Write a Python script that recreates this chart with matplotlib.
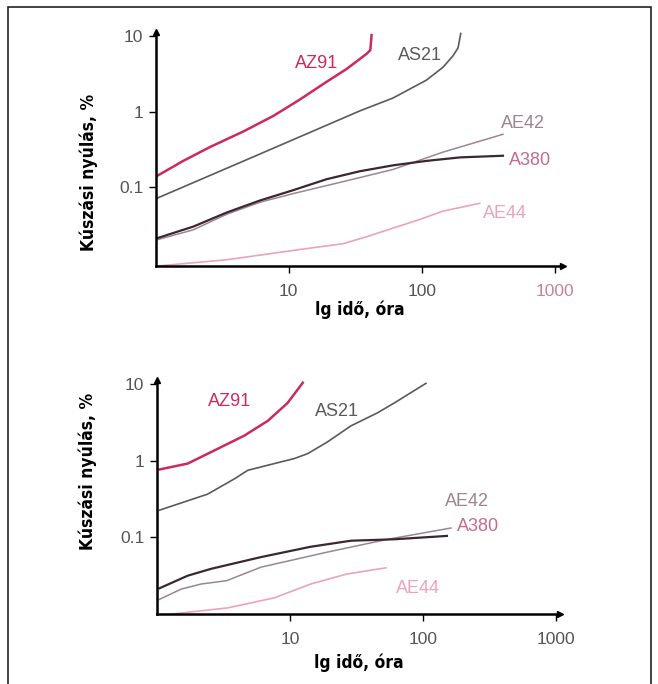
import matplotlib.pyplot as plt

# felső diagram (top panel)
t_az91 = [1.02, 1.61, 2.56, 4.55, 7.64, 12.1, 19.2, 27.2, 38.4, 41.0, 41.9]
e_az91 = [0.14, 0.222, 0.339, 0.544, 0.873, 1.44, 2.47, 3.66, 5.8, 6.5, 10.3]
t_as21 = [1.02, 6.07, 34.2, 60.7, 108, 144, 171, 187, 196]
e_as21 = [0.071, 0.274, 1.02, 1.51, 2.6, 3.85, 5.43, 6.95, 10.8]
t_ae42 = [1.02, 1.92, 3.41, 6.07, 10.8, 25.6, 60.7, 144, 407]
e_ae42 = [0.02, 0.0272, 0.0436, 0.063, 0.082, 0.118, 0.171, 0.29, 0.50]
t_a380 = [1.02, 1.92, 3.41, 6.07, 10.8, 19.2, 34.2, 60.7, 108, 193, 407]
e_a380 = [0.021, 0.030, 0.046, 0.0664, 0.091, 0.127, 0.162, 0.194, 0.222, 0.247, 0.26]
t_ae44 = [1.02, 3.41, 10.8, 25.6, 38.4, 60.7, 96.5, 144, 272]
e_ae44 = [0.009, 0.0109, 0.0145, 0.0178, 0.022, 0.0286, 0.0373, 0.048, 0.061]

# alsó diagram (bottom panel)
b_t_az91 = [1.05, 1.71, 2.56, 4.54, 6.81, 9.6, 12.5]
b_e_az91 = [0.77, 0.92, 1.30, 2.13, 3.32, 5.7, 10.5]
b_t_as21 = [1.05, 2.41, 3.83, 4.82, 6.81, 10.8, 13.6, 19.0, 28.7, 45.6, 60.7, 105]
b_e_as21 = [0.226, 0.366, 0.58, 0.75, 0.874, 1.07, 1.24, 1.75, 2.86, 4.25, 5.7, 10.3]
b_t_a380 = [1.05, 1.71, 2.56, 6.07, 14.3, 28.7, 60.7, 151]
b_e_a380 = [0.0215, 0.0314, 0.0386, 0.055, 0.075, 0.09, 0.094, 0.104]
b_t_ae42 = [1.05, 1.52, 2.15, 3.35, 6.07, 19.2, 54.3, 162]
b_e_ae42 = [0.0154, 0.0209, 0.0244, 0.027, 0.0406, 0.064, 0.094, 0.132]
b_t_ae44 = [1.05, 3.41, 7.64, 14.3, 26.7, 52.6]
b_e_ae44 = [0.0095, 0.0119, 0.0161, 0.0244, 0.033, 0.0398]

x_ticks = [10, 100, 1000]
x_labels = ['10', '100', '1000']
y_ticks = [0.1, 1, 10]
y_labels = ['0.1', '1', '10']

c_az91 = '#cc2a5e'
c_as21 = '#5a5a5a'
c_ae42 = '#9c8590'
c_a380 = '#3c2632'
c_a380_lbl = '#c56a90'
c_ae44 = '#eaa3bc'
tick_c = '#555555'

plt.rcParams['font.family'] = ['Liberation Sans', 'DejaVu Sans']

fig = plt.figure(figsize=(6.58, 6.84), dpi=100)

# keret
fig.patches.append(plt.Rectangle((8 / 658, -0.05), 643 / 658, 1.05 - 7 / 684,
                                 transform=fig.transFigure, fill=False,
                                 edgecolor='#222222', linewidth=1.2))

ax1 = fig.add_axes([155.7 / 658, 1 - 265.7 / 684, (563 - 155.7) / 658, (265.7 - 32) / 684])
ax2 = fig.add_axes([156.7 / 658, 1 - 614 / 684, (560 - 156.7) / 658, (614 - 380) / 684])


def setup(ax, ylim, xmax, c1000):
    ax.set_xscale('log')
    ax.set_yscale('log')
    ax.set_xlim(1, xmax)
    ax.set_ylim(*ylim)
    ax.spines['top'].set_visible(False)
    ax.spines['right'].set_visible(False)
    ax.spines['left'].set_linewidth(1.8)
    ax.spines['bottom'].set_linewidth(1.8)
    ax.minorticks_off()
    ax.set_xticks(x_ticks)
    ax.set_xticklabels(x_labels)
    ax.set_yticks(y_ticks)
    ax.set_yticklabels(y_labels)
    ax.tick_params(length=5, width=1, colors='black', labelcolor=tick_c, labelsize=12.5, pad=4)
    ax.tick_params(axis='x', pad=8)
    ax.get_xticklabels()[-1].set_color(c1000)
    # nyilak a tengelyek végén
    ax.plot(0, 1, marker='^', color='black', markersize=5, transform=ax.transAxes, clip_on=False)
    ax.plot(1, 0, marker='>', color='black', markersize=5, transform=ax.transAxes, clip_on=False)
    ax.set_xlabel('lg idő, óra', family='DejaVu Sans', fontstretch='condensed',
                  fontweight='bold', fontsize=12.5, labelpad=1)
    ax.set_ylabel('Kúszási nyúlás, %', family='DejaVu Sans', fontstretch='condensed',
                  fontweight='bold', fontsize=12.5)


setup(ax1, (0.0091, 11.3), 1150, '#c8809c')
setup(ax2, (0.0099, 11.4), 1067, tick_c)
ax1.yaxis.set_label_coords(-0.142, 0.40)
ax2.yaxis.set_label_coords(-0.147, 0.61)
ax2.xaxis.labelpad = 5

ax1.plot(t_az91, e_az91, color=c_az91, lw=1.8)
ax1.plot(t_as21, e_as21, color=c_as21, lw=1.2)
ax1.plot(t_ae42, e_ae42, color=c_ae42, lw=1.1)
ax1.plot(t_a380, e_a380, color=c_a380, lw=1.6)
ax1.plot(t_ae44, e_ae44, color=c_ae44, lw=1.2)

ax2.plot(b_t_az91, b_e_az91, color=c_az91, lw=1.8)
ax2.plot(b_t_as21, b_e_as21, color=c_as21, lw=1.2)
ax2.plot(b_t_ae42, b_e_ae42, color=c_ae42, lw=1.1)
ax2.plot(b_t_a380, b_e_a380, color=c_a380, lw=1.6)
ax2.plot(b_t_ae44, b_e_ae44, color=c_ae44, lw=1.2)

fs = 13
ax1.text(16.2, 4.35, 'AZ91', color=c_az91, fontsize=fs, ha='center', va='center')
ax1.text(96, 5.6, 'AS21', color=c_as21, fontsize=fs, ha='center', va='center')
ax1.text(572, 0.70, 'AE42', color=c_ae42, fontsize=fs, ha='center', va='center')
ax1.text(645, 0.228, 'A380', color=c_a380_lbl, fontsize=fs, ha='center', va='center')
ax1.text(419, 0.045, 'AE44', color=c_ae44, fontsize=fs, ha='center', va='center')

ax2.text(3.5, 5.9, 'AZ91', color=c_az91, fontsize=fs, ha='center', va='center')
ax2.text(22.5, 4.4, 'AS21', color=c_as21, fontsize=fs, ha='center', va='center')
ax2.text(212, 0.292, 'AE42', color=c_ae42, fontsize=fs, ha='center', va='center')
ax2.text(260, 0.1375, 'A380', color=c_a380_lbl, fontsize=fs, ha='center', va='center')
ax2.text(92, 0.0216, 'AE44', color=c_ae44, fontsize=fs, ha='center', va='center')

plt.savefig('out.png', dpi=100)
